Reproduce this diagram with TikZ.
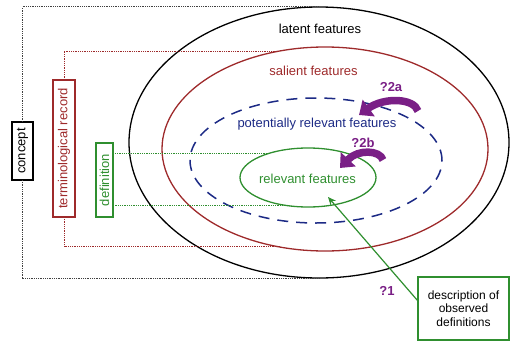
\documentclass[tikz,border=0pt]{standalone}
\usepackage{fontspec}
\setmainfont{Liberation Sans}
\usetikzlibrary{shapes.geometric,arrows.meta,calc}
\definecolor{cred}{HTML}{9E2A2B}
\definecolor{cblue}{HTML}{1C2A85}
\definecolor{cgreen}{HTML}{2F8F2F}
\definecolor{cpurple}{HTML}{7A1F86}
\begin{document}
\begin{tikzpicture}[x=1pt,y=1pt,
 ell/.style={ellipse, inner sep=0pt, outer sep=0pt, line width=1.3pt},
 lbl/.style={font=\fontsize{13}{15}\selectfont, inner sep=0pt},
 qlbl/.style={font=\fontsize{13}{15}\selectfont\bfseries, text=cpurple, inner sep=0pt},
 vbox/.style={draw, rotate=90, line width=1.2pt, inner sep=0pt, outer sep=0pt, font=\fontsize{13}{15}\selectfont},
 dotl/.style={line width=1pt, dash pattern=on 0.9pt off 0.9pt},
 bigarr/.style={cpurple, line width=7.5pt, -{Triangle[length=12pt,width=20pt]}},
]
\useasboundingbox (0,0) rectangle (510,341);
% ellipses
\node[ell, draw=black, minimum width=380pt, minimum height=271pt] (latent) at (319,198.5) {};
\node[ell, draw=cred, minimum width=326pt, minimum height=204pt] (salient) at (325,192) {};
\node[ell, draw=cblue, line width=1.5pt, dash pattern=on 11pt off 8pt, minimum width=252pt, minimum height=125pt] (potrel) at (316,180.5) {};
\node[ell, draw=cgreen, minimum width=136pt, minimum height=59pt] (relev) at (308,163.5) {};
% labels
\node[lbl] (tlatent) at (320,312) {latent features};
\node[lbl, text=cred] (tsalient) at (313.5,270) {salient features};
\node[lbl, text=cblue] (tpotrel) at (317,217) {potentially relevant features};
\node[lbl, text=cgreen] (trelev) at (307.5,162) {relevant features};
% boxes
\node[vbox, draw=black, minimum width=58pt, minimum height=21pt] (concept) at (22.5,190) {concept};
\node[vbox, draw=cred, text=cred, minimum width=137pt, minimum height=22pt] (term) at (64,192.5) {terminological record};
\node[vbox, draw=cgreen, text=cgreen, minimum width=74pt, minimum height=17pt] (def) at (104.5,161) {definition};
\node[draw=cgreen, line width=1.2pt, minimum width=91pt, minimum height=63pt, align=center, inner sep=0pt, font=\fontsize{12}{13.3}\selectfont] (desc) at (463.5,32.5) {description of\\observed\\definitions};
% dotted connectors
\draw[dotl, black!75] (concept.east) |- (latent.north);
\draw[dotl, black!75] (concept.west) |- (latent.south);
\draw[dotl, cred] (term.east) |- (salient.115);
\draw[dotl, cred] (term.west) |- (salient.245);
\draw[dotl, cgreen] (relev.150) -- (relev.150 -| def.south);
\draw[dotl, cgreen] (relev.235) -- (relev.235 -| def.south);
% green arrow
\coordinate (garr) at (328,144);
\draw[cgreen, line width=1.2pt, -{Stealth[length=8pt,width=7pt]}] (desc.170) -- (garr);
% purple arrows
\draw[bigarr] (418,230) .. controls (414,243) and (384,244) .. (359,226);
\draw[bigarr] (383,181) .. controls (380,191) and (358,192) .. (340,173);
\node[qlbl] (q2a) at (391,254) {?2a};
\node[qlbl] (q2b) at (363,198) {?2b};
\node[qlbl] (q1) at (387,50) {?1};
\end{tikzpicture}
\end{document}
